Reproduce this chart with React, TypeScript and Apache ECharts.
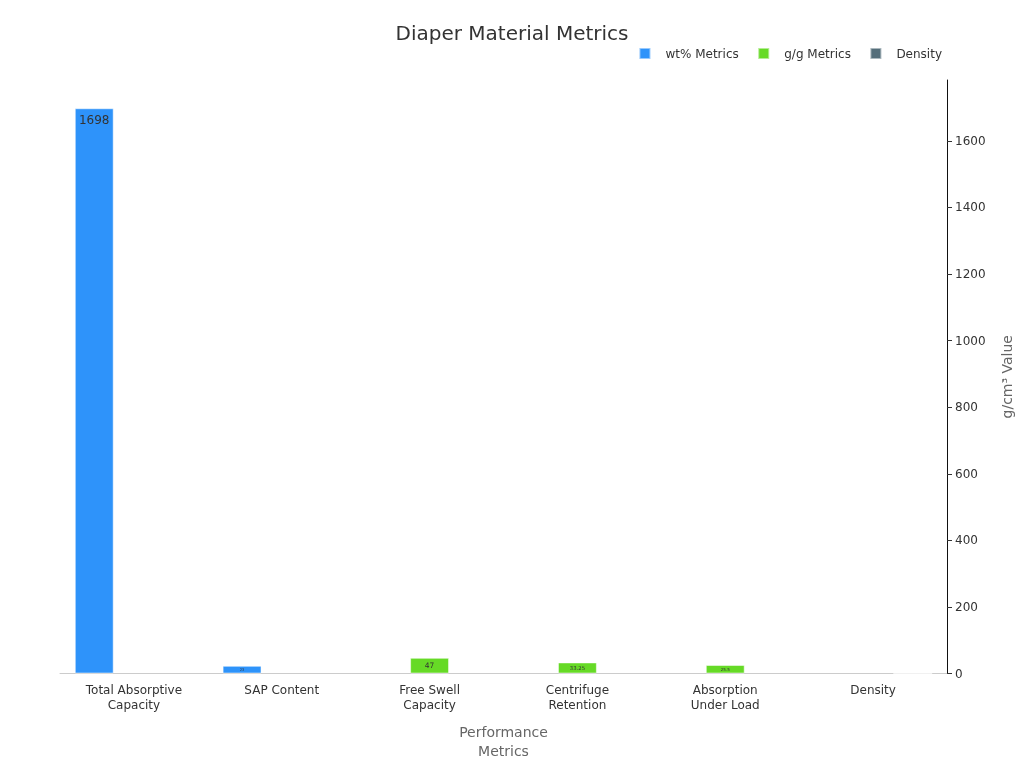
import React, { useEffect, useRef } from "react";
import * as echarts from "echarts";

const categories = [
  "Total Absorptive\nCapacity",
  "SAP Content",
  "Free Swell\nCapacity",
  "Centrifuge\nRetention",
  "Absorption\nUnder Load",
  "Density",
];
const wtMetrics: (number | null)[] = [1698, 23, null, null, null, null];
const ggMetrics: (number | null)[] = [null, null, 47, 33.25, 25.5, null];
const densityValues: (number | null)[] = [null, null, null, null, null, 0.3];
const seriesNames = ["wt% Metrics", "g/g Metrics", "Density"];
const colors = ["#2E93FA", "#66DA26", "#546E7A"];

function labelSize(v: number | null): number {
  if (v == null) return 0;
  return Math.max(2, Math.min(12, (v / 47) * 7.5));
}

function toData(arr: (number | null)[]) {
  return arr.map((v) =>
    v == null
      ? null
      : {
          value: v,
          label: {
            show: v >= 5,
            fontSize: labelSize(v),
            distance: v > 200 ? 6 : Math.max(1, labelSize(v) * 0.5),
          },
        }
  );
}

export default function App() {
  const ref = useRef<HTMLDivElement>(null);
  useEffect(() => {
    if (!ref.current) return;
    const chart = echarts.init(ref.current, undefined, { renderer: "svg" });
    const font = "DejaVu Sans, sans-serif";
    chart.setOption({
      animation: false,
      textStyle: { fontFamily: font },
      title: {
        text: "Diaper Material Metrics",
        left: "center",
        top: 18,
        textStyle: { fontSize: 20, fontWeight: "normal", color: "#333", fontFamily: font },
      },
      legend: {
        right: 77,
        top: 42,
        itemWidth: 11,
        itemHeight: 11,
        itemGap: 18.5,
        icon: "rect",
        textStyle: { fontSize: 12, color: "#333", fontFamily: font, padding: [0, 0, 0, 10] },
        data: seriesNames,
      },
      grid: { left: 60, right: 77, top: 80, bottom: 94.5, outerBoundsMode: "none", containLabel: false },
      xAxis: {
        type: "category",
        data: categories,
        name: "Performance\nMetrics",
        nameLocation: "middle",
        nameGap: 49,
        nameTextStyle: { fontSize: 14, color: "#666", lineHeight: 19, align: "center", fontFamily: font },
        axisLine: { lineStyle: { color: "#ccc" } },
        axisTick: { alignWithLabel: true, length: 5, lineStyle: { color: "#333" } },
        axisLabel: { fontSize: 12, color: "#333", lineHeight: 15, margin: 9, fontFamily: font },
      },
      yAxis: {
        type: "value",
        position: "right",
        min: 0,
        max: (v: { max: number }) => v.max * 1.05,
        interval: 200,
        name: "g/cm³ Value",
        nameLocation: "middle",
        nameGap: 53,
        nameTextStyle: { fontSize: 14, color: "#666", fontFamily: font },
        axisLine: { show: true, lineStyle: { color: "#111" } },
        axisTick: { show: true, length: 5, lineStyle: { color: "#333" } },
        axisLabel: {
          fontSize: 12,
          color: "#333",
          fontFamily: font,
          showMaxLabel: false,
          formatter: (v: number) => String(v),
        },
        splitLine: { show: false },
      },
      series: [wtMetrics, ggMetrics, densityValues].map((arr, i) => ({
        name: seriesNames[i],
        type: "bar",
        data: toData(arr),
        barGap: "2%",
        barCategoryGap: "20%",
        itemStyle: { color: colors[i], borderColor: "rgba(255,255,255,0.5)", borderWidth: 1 },
        label: {
          show: true,
          position: "insideTop",
          color: "#333",
          fontFamily: font,
        },
      })),
    });
    return () => chart.dispose();
  }, []);
  return <div ref={ref} style={{ position: "fixed", left: 0, top: 0, width: 1024, height: 768 }} />;
}
